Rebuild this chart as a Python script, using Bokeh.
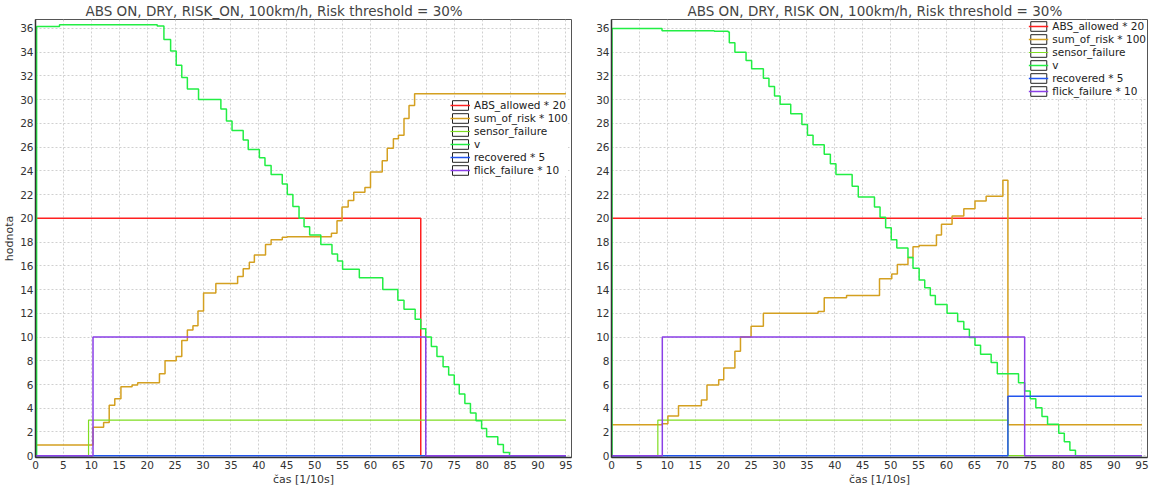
from bokeh.plotting import figure
from bokeh.models import FixedTicker, Legend, LegendItem, Range1d
from bokeh.layouts import row
from bokeh.embed import file_html
from bokeh.resources import INLINE

# ---------------- data ----------------
SERIES = ["ABS_allowed * 20", "sum_of_risk * 100", "sensor_failure", "v",
          "recovered * 5", "flick_failure * 10"]
COLORS = ["#FF2020", "#D4A020", "#7FDD22", "#22EE44", "#2255EE", "#8A3FE6"]
WIDTHS = [1.5, 1.5, 1.2, 1.5, 1.5, 1.5]

X_TICKS = list(range(0, 100, 5))
Y_TICKS = list(range(0, 38, 2))

TITLE_L = "ABS ON, DRY, RISK_ON, 100km/h, Risk threshold = 30%"
TITLE_R = "ABS ON, DRY, RISK ON, 100km/h, Risk threshold = 30%"
X_LABEL = "čas [1/10s]"
Y_LABEL = "hodnota"

# left chart: (time, value) change points
L_ABS = [(0, 20), (69.0, 0), (95, 0)]
L_RISK = [(0, 0.9), (10.3, 2.4), (12.2, 2.8), (13.2, 4.25), (14.2, 4.8), (15.3, 5.8),
          (17.3, 5.95), (18.3, 6.15), (22.2, 6.9), (23.2, 8.0), (25.2, 8.35), (26.2, 9.7),
          (27.2, 10.6), (28.2, 10.95), (29.1, 12.2), (30.1, 13.7), (32.3, 14.5), (36.2, 15.1),
          (37.2, 15.75), (38.3, 16.3), (39.2, 16.9), (41.2, 17.8), (42.2, 18.2), (44.2, 18.4),
          (45.1, 18.45), (53.0, 18.75), (54.0, 19.8), (54.9, 20.95), (56.0, 21.5), (57.0, 22.2),
          (59.0, 22.6), (60.0, 23.9), (62.1, 24.85), (63.0, 25.9), (64.1, 26.7), (65.0, 27.0),
          (66.0, 28.4), (66.9, 29.5), (67.9, 30.5), (95, 30.5)]
L_SENSOR = [(0, 0), (9.5, 3), (95, 3)]
L_V = [(0, 0), (0.2, 36.15), (4.3, 36.3), (21.8, 36.2), (23.0, 35.06), (24.2, 34.1),
       (25.2, 32.9), (26.2, 31.86), (27.2, 30.9), (29.2, 30.0), (33.2, 29.2), (34.2, 28.2),
       (35.2, 27.4), (37.2, 26.6), (38.1, 25.8), (40.1, 25.1), (41.1, 24.45), (42.2, 23.7),
       (44.2, 22.9), (45.1, 22.0), (46.1, 21.0), (47.2, 20.0), (48.1, 19.3), (49.1, 18.6),
       (51.1, 17.8), (53.1, 17.0), (54.1, 16.4), (55.0, 15.7), (58.0, 15.0), (62.2, 14.0),
       (64.9, 13.1), (66.0, 12.35), (68.0, 11.5), (69.0, 10.7), (69.9, 10.0), (70.9, 9.2),
       (71.9, 8.35), (73.0, 7.5), (74.0, 6.8), (75.0, 6.0), (75.9, 5.2), (76.9, 4.4),
       (77.9, 3.6), (78.9, 2.95), (79.9, 2.3), (80.8, 1.6), (82.8, 0.95), (83.8, 0.27),
       (84.9, 0), (95, 0)]
L_RECOVERED = [(0, 0), (95, 0)]
L_FLICK = [(0, 0), (10.3, 10), (69.9, 0), (95, 0)]

# right chart
R_ABS = [(0, 20), (95, 20)]
R_RISK = [(0, 2.6), (9.05, 2.7), (10.1, 3.35), (12.0, 4.2), (16.1, 4.7), (17.1, 5.95),
          (19.2, 6.4), (20.1, 7.4), (22.1, 8.8), (23.1, 10.0), (25.0, 10.9), (27.2, 12.0),
          (37.0, 12.15), (38.1, 13.3), (42.1, 13.5), (48.0, 14.9), (50.2, 15.3), (51.2, 16.1),
          (53.1, 16.7), (54.0, 17.6), (55.1, 17.7), (58.2, 18.6), (59.1, 19.5), (61.0, 20.2),
          (63.1, 20.8), (65.1, 21.45), (67.1, 21.85), (70.1, 23.2), (71.0, 2.6), (95, 2.6)]
R_SENSOR = [(0, 0), (8.3, 3), (71.0, 0), (95, 0)]
R_V = [(0, 0), (0.1, 36.0), (9.05, 35.8), (18.4, 35.75), (20.9, 35.7), (21.1, 34.8),
       (22.1, 34.0), (24.1, 33.3), (25.1, 32.6), (27.2, 31.8), (28.2, 31.1), (29.2, 30.3),
       (30.2, 29.6), (32.1, 28.8), (34.1, 27.9), (35.1, 27.0), (36.1, 26.2), (38.1, 25.4),
       (39.2, 24.6), (40.2, 23.7), (43.1, 22.7), (44.2, 21.8), (47.1, 20.95), (48.1, 20.1),
       (49.1, 19.2), (50.1, 18.2), (51.1, 17.5), (53.1, 16.7), (54.0, 15.8), (55.1, 14.8),
       (56.1, 14.15), (57.1, 13.5), (58.0, 12.75), (60.1, 12.0), (62.0, 11.3), (63.1, 10.65),
       (64.1, 9.97), (65.1, 9.3), (66.1, 8.55), (68.0, 7.85), (69.1, 6.9), (72.9, 6.15),
       (74.0, 5.45), (75.0, 4.8), (76.0, 4.05), (77.1, 3.3), (78.1, 2.65), (80.1, 1.9),
       (81.1, 1.17), (82.1, 0.46), (83.1, 0), (95, 0)]
R_RECOVERED = [(0, 0), (71.0, 5), (95, 5)]
R_FLICK = [(0, 0), (9.1, 10), (74.0, 0), (95, 0)]

LEFT = [L_ABS, L_RISK, L_SENSOR, L_V, L_RECOVERED, L_FLICK]
RIGHT = [R_ABS, R_RISK, R_SENSOR, R_V, R_RECOVERED, R_FLICK]

FONT = "DejaVu Sans"


def make_fig(title, data, y_label, legend_loc, title_offset, bl, br):
    p = figure(frame_width=536, frame_height=438,
               x_range=Range1d(0, 96), y_range=Range1d(-0.15, 36.75),
               output_backend="svg", toolbar_location=None,
               min_border_left=bl, min_border_right=br,
               min_border_top=0, min_border_bottom=0)
    p.title.text = title
    p.title.text_font = FONT
    p.title.text_font_size = "13.5px"
    p.title.text_font_style = "normal"
    p.title.text_color = "#444444"
    p.title.align = "left"
    p.title.offset = title_offset
    p.title.standoff = 1

    p.outline_line_color = "#555555"
    p.outline_line_width = 1
    p.background_fill_color = "white"

    for ax in (p.xaxis[0], p.yaxis[0]):
        ax.major_tick_out = 0
        ax.major_tick_in = 0
        ax.minor_tick_out = 0
        ax.minor_tick_in = 0
        ax.major_label_text_font = FONT
        ax.major_label_text_font_size = "10.5px"
        ax.major_label_text_color = "#333333"
        ax.axis_line_color = "#333333"
        ax.axis_line_width = 1.5
        ax.major_label_standoff = 3
        ax.axis_label_text_font = FONT
        ax.axis_label_text_font_size = "11px"
        ax.axis_label_text_font_style = "normal"
        ax.axis_label_text_color = "#333333"
        ax.axis_label_standoff = 1
    p.xaxis.ticker = FixedTicker(ticks=X_TICKS)
    p.yaxis.ticker = FixedTicker(ticks=Y_TICKS)
    p.xaxis.axis_label = X_LABEL
    if y_label:
        p.yaxis.axis_label = y_label
    p.yaxis.major_label_standoff = 2

    for g in (p.xgrid[0], p.ygrid[0]):
        g.grid_line_color = "#d0d0d0"
        g.grid_line_dash = "2 2"
        g.grid_line_width = 1

    items = []
    for name, color, lw, pts in zip(SERIES, COLORS, WIDTHS, data):
        t = [a for a, _ in pts]
        v = [b for _, b in pts]
        r = p.step(x=t, y=v, mode="after", line_color=color, line_width=lw)
        items.append((name, color, r))

    legend_items = []
    for name, color, r in items:
        # legend-only swatch frame, placed outside the visible range
        box = p.quad(left=[-50], right=[-49], top=[-50], bottom=[-51], fill_color="white",
                     line_color="#222222", line_width=1)
        legend_items.append(LegendItem(label=name, renderers=[box, r]))

    leg = Legend(items=legend_items, location=legend_loc,
                 background_fill_color="white", background_fill_alpha=1.0,
                 border_line_color=None,
                 label_text_font=FONT, label_text_font_size="10.5px",
                 label_text_color="#222222",
                 glyph_width=20, glyph_height=12, label_height=11,
                 spacing=1, padding=2, margin=1, label_standoff=4)
    p.add_layout(leg)
    return p


p1 = make_fig(TITLE_L, LEFT, Y_LABEL, (415, 281), 50, 0, 20)
p2 = make_fig(TITLE_R, RIGHT, None, "top_right", 76, 20, 4)

layout = row(p1, p2)
open("out.html", "w").write(file_html(layout, INLINE))
